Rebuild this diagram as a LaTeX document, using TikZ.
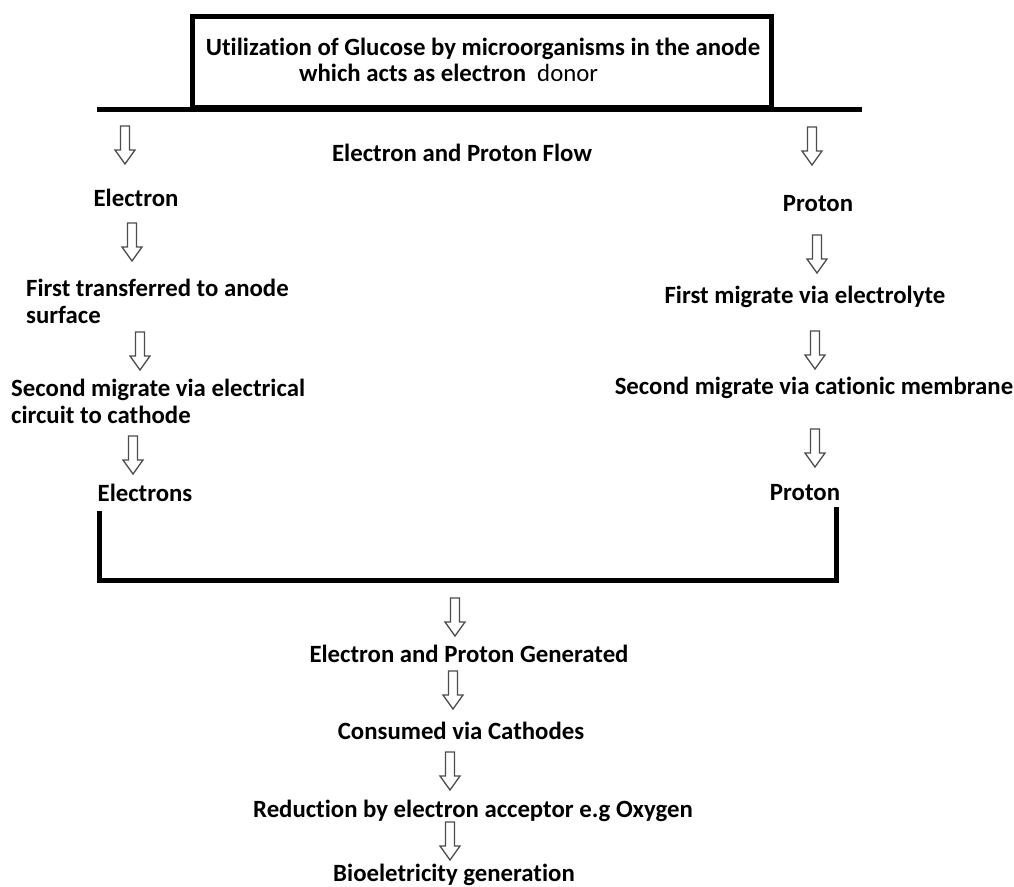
\documentclass[tikz,border=0pt]{standalone}
\usepackage{fontspec}
\setmainfont[RawFeature=-liga]{Carlito}
\begin{document}
\begin{tikzpicture}[x=1pt,y=-1pt]
\tikzset{
  lbl/.style={font=\bfseries\fontsize{24.8}{27}\selectfont, inner sep=0pt, text=black},
  heavy/.style={line width=5pt, draw=black},
  darr/.pic={\draw[line width=1.3pt, draw=black!70, fill=white, line join=miter]
     (-4.5,0) -- (4.5,0) -- (4.5,24) -- (10,24) -- (0,38) -- (-10,24) -- (-4.5,24) -- cycle;}
}
\useasboundingbox (0,0) rectangle (1014,886);
% top box and base line
\draw[heavy] (97,109) -- (862,109);
\draw[heavy] (192,16) rectangle (771,107);
\node[lbl] (t1) at (483,49) {Utilization of Glucose by microorganisms in the anode};
\node[lbl, anchor=west] (t2) at (299,73) {which acts as electron\ \ \mdseries donor};
\node[lbl] (flow) at (462,153) {Electron and Proton Flow};
% left column
\pic (la1) at (125,126) {darr};
\node[lbl] (el) at (136,198) {Electron};
\pic (la2) at (132,223) {darr};
\node[lbl, anchor=west, align=left] (ft) at (26,301) {First transferred to anode\\surface};
\pic (la3) at (140,332) {darr};
\node[lbl, anchor=west, align=left] (sm) at (11,401) {Second migrate via electrical\\circuit to cathode};
\pic (la4) at (133,436) {darr};
\node[lbl] (els) at (145,493) {Electrons};
% right column
\pic (ra1) at (812,127) {darr};
\node[lbl] (pr) at (818,204) {Proton};
\pic (ra2) at (817,235) {darr};
\node[lbl] (fm) at (805,297) {First migrate via electrolyte};
\pic (ra3) at (815,331) {darr};
\node[lbl] (scm) at (814,388) {Second migrate via cationic membrane};
\pic (ra4) at (815,429) {darr};
\node[lbl] (pr2) at (805,493) {Proton};
% bracket
\draw[heavy] (99,511) -- (99,580) -- (836,580) -- (836,507);
% bottom chain
\pic (ba1) at (455,598) {darr};
\node[lbl] (gen) at (469,654) {Electron and Proton Generated};
\pic (ba2) at (453,671) {darr};
\node[lbl] (cons) at (461,731) {Consumed via Cathodes};
\pic (ba3) at (450,752) {darr};
\node[lbl] (red) at (473,811) {Reduction by electron acceptor e.g Oxygen};
\pic (ba4) at (450,822) {darr};
\node[lbl] (bio) at (454,875) {Bioeletricity generation};
\end{tikzpicture}
\end{document}
